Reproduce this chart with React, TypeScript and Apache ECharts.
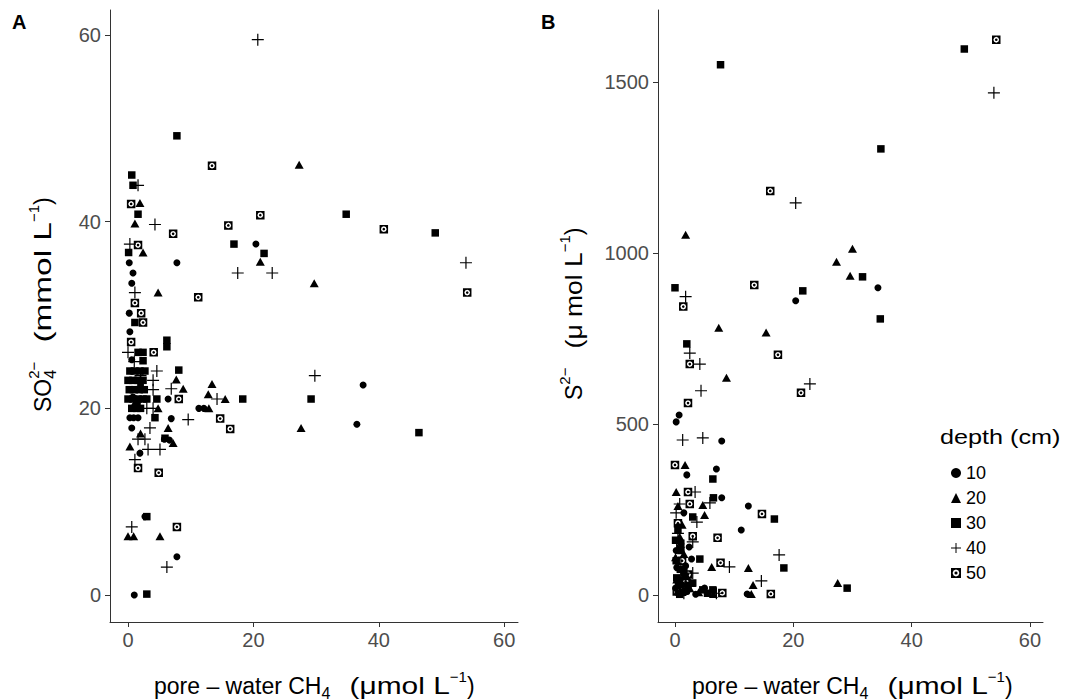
import React, { useEffect, useRef } from "react";
import * as echarts from "echarts";

const depthNames = ["10", "20", "30", "40", "50"];
const xTicks = [0, 20, 40, 60];
const yTicksA = [0, 20, 40, 60];
const yTicksB = [0, 500, 1000, 1500];

// Panel A: pore-water CH4 (x) vs SO4 2- (y)
const a10 = [[20.4,37.6],[7.8,35.6],[0.2,35.6],[0.8,34.5],[0.6,33.4],[0.2,30.2],[0.3,28.2],[0.6,25.2],[0.5,24.0],[1.2,23.0],[0.4,22.0],[6.4,21.0],[0.3,19.0],[0.9,19.0],[1.6,19.0],[6.9,18.9],[0.6,17.9],[5.8,16.7],[6.6,16.6],[1.9,15.2],[11.3,20.0],[12.1,20.0],[37.5,22.5],[36.5,18.3],[2.7,8.4],[7.8,4.1],[1.0,0.0],[2.0,22.5],[1.5,20.5],[0.8,21.2]];
const a20 = [[27.3,46.1],[1.9,42.0],[1.1,39.8],[2.4,36.7],[21.1,35.7],[4.8,32.4],[29.7,33.4],[7.7,23.1],[8.8,22.1],[4.8,20.0],[6.4,17.9],[7.2,16.3],[0.3,15.9],[13.4,22.6],[12.8,21.5],[15.5,21.0],[12.9,20.0],[27.6,17.9],[0.0,6.3],[0.9,6.3],[5.1,6.3],[2.0,17.3],[1.0,20.5]];
const a30 = [[7.8,49.2],[0.6,45.0],[0.8,43.9],[1.6,40.8],[0.1,36.7],[34.8,40.8],[49.0,38.8],[16.9,37.6],[21.7,36.6],[1.1,29.2],[6.2,27.3],[6.2,26.6],[1.6,26.0],[2.4,26.0],[2.4,25.1],[0.3,24.0],[1.1,24.0],[1.9,24.0],[2.7,24.0],[8.1,24.1],[0.0,23.0],[0.8,23.0],[1.6,23.0],[2.4,23.0],[0.2,22.0],[1.0,22.0],[1.8,22.0],[2.6,22.0],[0.0,21.0],[0.8,21.0],[1.6,21.0],[2.4,21.0],[3.0,21.0],[4.6,21.0],[0.6,20.0],[1.4,20.0],[2.0,20.0],[4.3,19.0],[18.3,21.0],[29.2,21.0],[46.4,17.4],[3.0,8.4],[3.0,0.1],[5.9,16.8]];
const a40 = [[20.7,59.5],[1.6,43.9],[4.3,39.7],[0.3,37.6],[17.5,34.5],[23.0,34.5],[53.9,35.6],[1.1,32.4],[0.0,26.0],[4.6,24.0],[4.0,23.0],[4.0,22.0],[6.9,22.1],[3.0,20.0],[4.0,20.0],[9.6,18.8],[3.5,17.9],[1.6,16.7],[2.7,16.7],[3.2,15.6],[5.1,15.6],[1.1,14.5],[14.2,21.0],[29.8,23.5],[0.6,7.3],[6.2,3.0],[2.0,23.5],[1.0,25.0]];
const a50 = [[13.4,46.0],[0.5,41.9],[21.1,40.7],[16.0,39.6],[7.2,38.7],[1.6,37.5],[40.8,39.2],[54.1,32.4],[11.2,31.9],[1.1,31.3],[2.1,30.2],[2.4,29.2],[0.5,27.1],[4.1,26.0],[8.1,21.0],[14.7,18.9],[16.3,17.8],[1.6,13.6],[4.9,13.1],[7.8,7.3]];

// Panel B: pore-water CH4 (x) vs S 2- (y)
const b10 = [[34.3,898],[20.4,860],[0.7,526],[0.2,506],[7.9,450],[7.0,368],[2.0,351],[7.9,284],[12.4,260],[1.5,240],[11.2,190],[2.8,105],[12.2,3],[0.5,200],[1.0,150],[0.3,80],[1.2,30],[2.0,10],[0.5,5],[3.5,2],[5.0,20],[1.5,60],[0.2,130],[0.9,45],[2.4,140],[1.8,85],[0.1,20]];
const b20 = [[1.8,1053],[30.0,1012],[27.3,974],[29.6,933],[7.4,781],[15.4,767],[8.7,635],[1.7,380],[0.2,301],[4.7,263],[5.0,234],[6.2,82],[12.4,79],[13.2,29],[12.9,3],[27.5,35],[0.8,170],[1.5,120],[0.3,45],[2.5,20],[4.0,8],[6.5,3],[0.5,260],[1.2,205],[0.1,110],[2.0,55]];
const b30 = [[48.9,1596],[7.7,1550],[34.8,1304],[31.7,930],[21.6,889],[0.0,898],[34.7,807],[2.0,734],[6.4,339],[6.5,284],[3.0,228],[16.8,222],[4.2,105],[18.4,79],[29.1,20],[0.5,190],[1.0,130],[0.2,100],[1.5,65],[0.6,30],[1.8,12],[4.7,15],[6.4,15],[5.5,5],[3.0,35],[0.8,2],[0.1,160],[0.9,75],[0.3,50],[2.2,28],[1.3,8]];
const b40 = [[53.9,1468],[20.4,1146],[1.8,872],[2.5,707],[4.2,675],[4.4,597],[22.8,617],[1.3,453],[4.7,459],[3.4,301],[0.8,266],[5.9,269],[3.7,213],[3.0,155],[17.6,117],[9.2,82],[3.0,64],[14.6,41],[1.0,90],[2.5,25],[7.0,5],[0.5,180],[0.2,240],[1.5,5]];
const b50 = [[54.3,1623],[16.1,1181],[13.4,906],[1.4,843],[17.4,702],[2.5,675],[21.3,591],[2.2,561],[0.0,380],[2.2,301],[2.5,266],[14.7,237],[3.0,172],[7.2,167],[7.7,94],[16.2,3],[8.0,6],[0.5,210],[1.2,100],[1.8,40],[0.3,10],[2.2,60],[0.9,150]];

const FONT = '"Liberation Sans", Arial, sans-serif';

const symbols: any[] = [
  { symbol: "circle", size: 7 },
  { symbol: "triangle", size: [9, 8] },
  { symbol: "rect", size: 7.5 },
  { symbol: "path://M5.4 0H6.6V5.4H12V6.6H6.6V12H5.4V6.6H0V5.4H5.4Z", size: 12 },
  {
    symbol:
      "path://M0 0H10V10H0Z M8.4 5L7.4 2.6L5 1.6L2.6 2.6L1.6 5L2.6 7.4L5 8.4L7.4 7.4Z M6.6 5L6.13 6.13L5 6.6L3.87 6.13L3.4 5L3.87 3.87L5 3.4L6.13 3.87Z",
    size: 8.5,
  },
];

let ctx: CanvasRenderingContext2D | null = null;
function measure(text: string, size: number) {
  if (!ctx) ctx = document.createElement("canvas").getContext("2d");
  ctx!.font = `${size}px ${FONT}`;
  return ctx!.measureText(text).width;
}

type Piece = { t: string; s: number; dy: number; hold?: boolean; sx?: number };

function richLabel(pieces: Piece[]) {
  let x = 0;
  let pending: { start: number; w: number } | null = null;
  const out: any[] = [];
  for (const p of pieces) {
    const sx = p.sx || 1;
    const w = measure(p.t, p.s) * sx;
    const px = pending ? pending.start : x;
    out.push({
      type: "text",
      x: px,
      y: p.dy,
      scaleX: sx,
      silent: true,
      style: {
        text: p.t,
        fontSize: p.s,
        fontFamily: FONT,
        fill: "#000",
        align: "left",
        verticalAlign: "middle",
      },
    });
    if (p.hold) {
      pending = { start: x, w };
    } else if (pending) {
      x = pending.start + Math.max(pending.w, w);
      pending = null;
    } else {
      x += w;
    }
  }
  return out;
}

const S = 23;
const xTitle: Piece[] = [
  { t: "pore \u2013 water CH", s: S, dy: 0 },
  { t: "4", s: 16, dy: 7 },
  { t: "   ", s: S, dy: 0 },
  { t: "(\u03bcmol L", s: S, dy: 0, sx: 1.3 },
  { t: "\u22121", s: 15, dy: -10 },
  { t: ")", s: S, dy: 0 },
];
const yTitleA: Piece[] = [
  { t: "SO", s: S, dy: 0 },
  { t: "2\u2212", s: 15, dy: -10, hold: true },
  { t: "4", s: 16, dy: 7 },
  { t: "   ", s: S, dy: 0 },
  { t: "(mmol L", s: S, dy: 0, sx: 1.45 },
  { t: "\u22121", s: 15, dy: -10 },
  { t: ")", s: S, dy: 0 },
];
const yTitleB: Piece[] = [
  { t: "S", s: S, dy: 0 },
  { t: "2\u2212", s: 15, dy: -10 },
  { t: "   ", s: S, dy: 0 },
  { t: "(\u03bc mol L", s: S, dy: 0, sx: 1.15 },
  { t: "\u22121", s: 15, dy: -10 },
  { t: ")", s: S, dy: 0 },
];

function axisCommon(custom: number[], margin: number) {
  return {
    type: "value",
    splitLine: { show: false },
    axisLine: { show: true, onZero: false, lineStyle: { color: "#333", width: 1 } },
    axisTick: { show: true, length: 5, customValues: custom, lineStyle: { color: "#333" } },
    axisLabel: {
      customValues: custom,
      color: "#4d4d4d",
      fontSize: 20,
      fontFamily: FONT,
      margin,
      formatter: (v: number) => String(v),
    },
  };
}

function seriesFor(gridIdx: number, sets: number[][][]) {
  return sets.map((d, i) => ({
    type: "scatter",
    name: depthNames[i],
    xAxisIndex: gridIdx,
    yAxisIndex: gridIdx,
    data: d,
    symbol: symbols[i].symbol,
    symbolSize: symbols[i].size,
    itemStyle: { color: "#000", opacity: 1 },
    emphasis: { disabled: true },
    z: 2 + i,
  }));
}

export default function App() {
  const ref = useRef<HTMLDivElement>(null);
  useEffect(() => {
    const chart = echarts.init(ref.current!, null, { renderer: "svg" });
    const option: any = {
      animation: false,
      backgroundColor: "#fff",
      grid: [
        { left: 110, top: 10, width: 408, height: 612 },
        { left: 658, top: 10, width: 385, height: 612 },
      ],
      xAxis: [
        { ...axisCommon(xTicks, 8), gridIndex: 0, min: -2.87, max: 62.2 },
        { ...axisCommon(xTicks, 8), gridIndex: 1, min: -2.87, max: 62.2 },
      ],
      yAxis: [
        { ...axisCommon(yTicksA, 9), gridIndex: 0, min: -2.89, max: 62.68 },
        { ...axisCommon(yTicksB, 9), gridIndex: 1, min: -79, max: 1710 },
      ],
      legend: {
        data: depthNames,
        orient: "vertical",
        left: 946,
        top: 459,
        itemWidth: 10,
        itemHeight: 10,
        itemGap: 7,
        selectedMode: false,
        textStyle: { fontSize: 18, color: "#000", fontFamily: FONT },
      },
      series: [...seriesFor(0, [a10, a20, a30, a40, a50]), ...seriesFor(1, [b10, b20, b30, b40, b50])],
      graphic: [
        { type: "text", left: 12, top: 12, style: { text: "A", fontSize: 20, fontWeight: "bold", fontFamily: FONT, fill: "#000" } },
        { type: "text", left: 541, top: 12, style: { text: "B", fontSize: 20, fontWeight: "bold", fontFamily: FONT, fill: "#000" } },
        { type: "group", x: 940, y: 437, children: richLabel([{ t: "depth (cm)", s: 21, dy: 0, sx: 1.2 }]) },
        { type: "group", x: 154, y: 686, children: richLabel(xTitle) },
        { type: "group", x: 692, y: 686, children: richLabel(xTitle) },
        { type: "group", x: 43, y: 412, rotation: Math.PI / 2, children: richLabel(yTitleA) },
        { type: "group", x: 574, y: 400, rotation: Math.PI / 2, children: richLabel(yTitleB) },
      ],
    };
    chart.setOption(option);
    return () => chart.dispose();
  }, []);
  return <div ref={ref} style={{ position: "absolute", left: 0, top: 0, width: 1070, height: 700 }} />;
}
